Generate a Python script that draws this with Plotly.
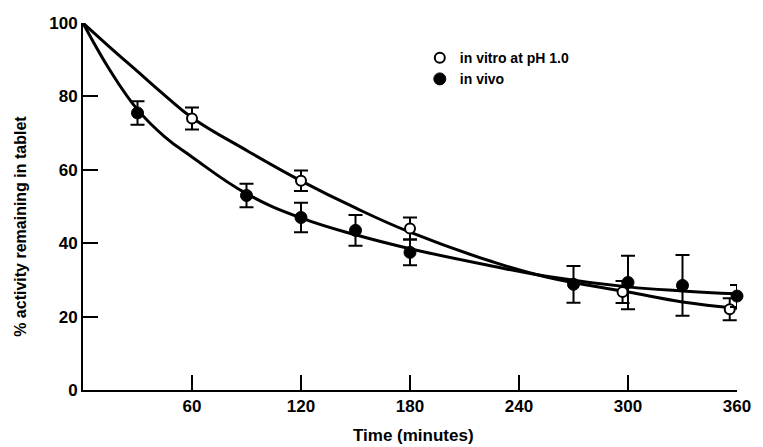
import plotly.graph_objects as go

# Measured points (time in minutes, % activity remaining)
vitro_t = [60, 120, 180, 297, 356]
vitro_y = [74, 57, 44, 26.7, 22]
vitro_err = [3, 2.8, 3, 3, 3]

vivo_t = [30, 90, 120, 150, 180, 270, 300, 330, 360]
vivo_y = [75.5, 53, 47, 43.5, 37.5, 28.8, 29.3, 28.5, 25.6]
vivo_err = [3.2, 3.2, 4, 4.2, 3.5, 5, 7.3, 8.3, 3]

# Fitted curves
curve_t = [0, 15, 30, 45, 60, 90, 120, 150, 180, 225, 255, 300, 330, 360]
vitro_curve = [100, 93.3, 86.8, 80.3, 74.2, 65.3, 57, 49.6, 43, 35, 30.8, 26.7, 24, 22.3]
vivo_curve = [100, 87, 76.4, 69, 63.5, 53.5, 46.9, 42.3, 38.5, 33.8, 31, 28.1, 27, 26.2]

x_ticks = [60, 120, 180, 240, 300, 360]
y_ticks = [0, 20, 40, 60, 80, 100]

FONT = "Liberation Sans, Arial, sans-serif"

fig = go.Figure()
fig.add_trace(go.Scatter(x=curve_t, y=vitro_curve, mode="lines",
                         line=dict(color="black", width=3, shape="spline", smoothing=1.2),
                         showlegend=False, hoverinfo="skip"))
fig.add_trace(go.Scatter(x=curve_t, y=vivo_curve, mode="lines",
                         line=dict(color="black", width=3, shape="spline", smoothing=1.2),
                         showlegend=False, hoverinfo="skip"))
fig.add_trace(go.Scatter(x=vitro_t, y=vitro_y, mode="markers", name="in vitro at pH 1.0",
                         marker=dict(symbol="circle", size=10, color="white", line=dict(color="black", width=2)),
                         error_y=dict(type="data", array=vitro_err, color="black", thickness=2, width=7),
                         cliponaxis=False))
fig.add_trace(go.Scatter(x=vivo_t, y=vivo_y, mode="markers", name="in vivo",
                         marker=dict(symbol="circle", size=12, color="black", line=dict(color="black", width=1)),
                         error_y=dict(type="data", array=vivo_err, color="black", thickness=2, width=7),
                         cliponaxis=False))

fig.update_layout(
    width=763, height=447,
    margin=dict(l=83, r=16, t=23, b=57),
    plot_bgcolor="white", paper_bgcolor="white",
    font=dict(family=FONT, color="black", size=16, weight="bold"),
    showlegend=True,
    legend=dict(x=0.515, y=0.948, xanchor="left", yanchor="top", bgcolor="rgba(0,0,0,0)",
                font=dict(size=14, family=FONT, weight="bold"), tracegroupgap=0),
    xaxis=dict(range=[0, 360], tickvals=x_ticks, ticktext=[str(v) for v in x_ticks],
               showline=True, linecolor="black", linewidth=2, ticks="inside", ticklen=15, tickwidth=2,
               tickcolor="black", showgrid=False, zeroline=False,
               tickfont=dict(size=17, family=FONT, weight="bold")),
    yaxis=dict(range=[0, 100], tickvals=y_ticks, ticktext=[str(v) for v in y_ticks],
               showline=True, linecolor="black", linewidth=2, ticks="inside", ticklen=15, tickwidth=2,
               tickcolor="black", showgrid=False, zeroline=False,
               tickfont=dict(size=17, family=FONT, weight="bold")),
    annotations=[
        dict(text="% activity remaining in tablet", xref="paper", yref="paper",
             x=-0.095, y=0.447, textangle=-90, showarrow=False, xanchor="center", yanchor="middle",
             font=dict(size=16, family=FONT, weight="bold")),
        dict(text="Time (minutes)", xref="paper", yref="paper",
             x=0.506, y=-0.125, showarrow=False, xanchor="center", yanchor="middle",
             font=dict(size=17, family=FONT, weight="bold")),
    ],
)

fig.write_html("out.html", config={"displayModeBar": False},
               post_script="document.body.style.margin='0';document.body.style.overflow='hidden';")
